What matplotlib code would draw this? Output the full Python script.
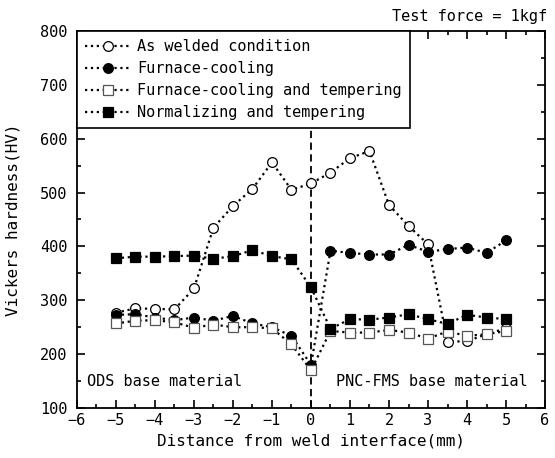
import matplotlib
matplotlib.use("Agg")
import matplotlib.pyplot as plt
from matplotlib.ticker import MultipleLocator

plt.rcParams["font.family"] = ["DejaVu Sans Mono"]
plt.rcParams["font.size"] = 11

x_pos = [-5, -4.5, -4, -3.5, -3, -2.5, -2, -1.5, -1, -0.5, 0,
         0.5, 1, 1.5, 2, 2.5, 3, 3.5, 4, 4.5, 5]

as_welded = [277, 285, 284, 283, 322, 435, 475, 507, 556, 505, 517,
             537, 564, 577, 477, 438, 404, 223, 224, 237, 248]
furnace_cooling = [273, 274, 268, 263, 268, 262, 271, 257, 250, 234, 180,
                   392, 388, 385, 385, 403, 390, 395, 398, 388, 411]
furnace_tempering = [257, 262, 263, 259, 249, 255, 250, 250, 248, 218, 170,
                     243, 240, 240, 245, 240, 229, 242, 234, 237, 243]
normalizing_tempering = [378, 381, 381, 382, 383, 377, 382, 393, 382, 376, 324,
                         247, 265, 264, 268, 274, 265, 256, 273, 268, 265]

fig = plt.figure(figsize=(5.55, 4.58), dpi=100)
ax = fig.add_axes([0.1387, 0.1092, 0.8433, 0.8231])

ax.axvline(0, color="black", linestyle=(0, (4, 2.5)), linewidth=1.3, zorder=1)

style = dict(color="black", linestyle=":", linewidth=1.6, markersize=7,
             markeredgewidth=0.9, zorder=3)
ax.plot(x_pos, as_welded, marker="o", markerfacecolor="white",
        label="As welded condition", **style)
ax.plot(x_pos, furnace_cooling, marker="o", markerfacecolor="black",
        label="Furnace-cooling", **style)
ax.plot(x_pos, furnace_tempering, marker="s", markerfacecolor="white",
        markeredgecolor="#555555", label="Furnace-cooling and tempering", **style)
ax.plot(x_pos, normalizing_tempering, marker="s", markerfacecolor="black",
        label="Normalizing and tempering", **style)

ax.set_xlim(-6, 6)
ax.set_ylim(100, 800)
ax.xaxis.set_major_locator(MultipleLocator(1))
ax.xaxis.set_minor_locator(MultipleLocator(0.5))
ax.yaxis.set_major_locator(MultipleLocator(100))
ax.yaxis.set_minor_locator(MultipleLocator(50))
ax.tick_params(which="both", direction="in", top=True, right=True,
               labelsize=11, width=1.2)
ax.tick_params(which="major", length=6)
ax.tick_params(axis="y", which="major", pad=7)
ax.tick_params(which="minor", length=3)
ax.set_xticks(range(-6, 7))
ax.set_xticklabels([str(v).replace("-", "\u2212") for v in range(-6, 7)])
for s in ax.spines.values():
    s.set_linewidth(1.3)

ax.set_xlabel("Distance from weld interface(mm)", fontsize=11.5, labelpad=4)
ax.set_ylabel("Vickers hardness(HV)", fontsize=11.5, labelpad=14)

ax.text(-5.75, 140, "ODS base material", fontsize=11)
ax.text(5.55, 140, "PNC-FMS base material", fontsize=11, ha="right")
fig.text(0.985, 0.955, "Test force = 1kgf", fontsize=11, ha="right")

leg = ax.legend(loc="upper left", borderaxespad=0, fancybox=False,
                framealpha=1, edgecolor="black", fontsize=11,
                handlelength=3.0, handletextpad=0.4, labelspacing=0.45,
                borderpad=0.55)
leg.get_frame().set_linewidth(1.2)
leg.set_zorder(5)

fig.savefig("out.png", dpi=100)
